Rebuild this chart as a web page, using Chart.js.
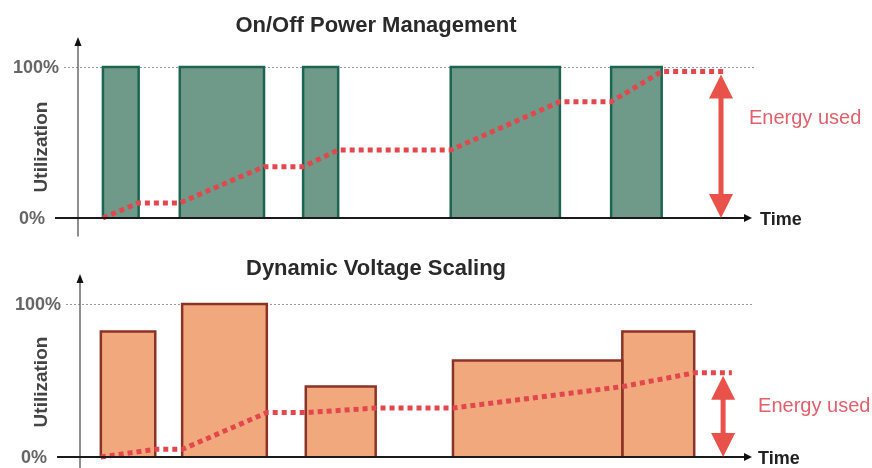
<!DOCTYPE html>
<html><head><meta charset="utf-8">
<script src="https://cdn.jsdelivr.net/npm/chart.js@4"></script>
<style>
html,body{margin:0;padding:0;background:#fff;width:872px;height:468px;overflow:hidden}
.p{position:absolute;left:0;width:872px}
</style></head><body>
<div class="p" style="top:0;height:240px"><canvas id="c1" width="872" height="240"></canvas></div>
<div class="p" style="top:240px;height:228px"><canvas id="c2" width="872" height="228"></canvas></div>
<script>
// ---- data (time in arbitrary units 0..100, utilization / energy in %) ----
const onoffTitle = 'On/Off Power Management';
const onoffStart = [3.7, 15.1, 33.4, 55.3, 79.1];
const onoffEnd   = [9.0, 27.6, 38.6, 71.5, 86.6];
const onoffLevel = [100, 100, 100, 100, 100];
const onoffEnergyT = [3.7, 9.0, 15.1, 27.6, 33.4, 38.6, 55.3, 71.5, 79.1, 86.6, 96.0];
const onoffEnergy  = [0, 10, 10, 34, 34, 45, 45, 77, 77, 97, 97];
const onoffArrowT = 95.4;

const dvsTitle = 'Dynamic Voltage Scaling';
const dvsStart = [3.1, 15.2, 33.6, 55.5, 80.7];
const dvsEnd   = [11.2, 27.8, 44.0, 80.7, 91.4];
const dvsLevel = [82, 100, 46, 63, 82];
const dvsEnergyT = [3.1, 11.2, 15.2, 27.8, 33.6, 44.0, 55.5, 80.7, 91.4, 97.0];
const dvsEnergy  = [0, 5, 5, 29, 29, 32, 32, 46, 55, 55];
const dvsArrowT = 95.7;

const tickValues = [0, 100];
const tickLabels = ['0%', '100%'];
const yAxisTitle = 'Utilization';
const xAxisLabel = 'Time';
const energyLabel = 'Energy used';

const F = "'Liberation Sans', Arial, sans-serif";

function barDatasets(starts, ends, levels, fill, border) {
  return starts.map((s, i) => ({
    label: 'task ' + (i + 1),
    data: [{x: s, y: 0}, {x: s, y: levels[i]}, {x: ends[i], y: levels[i]}, {x: ends[i], y: 0}],
    fill: 'origin', backgroundColor: fill, borderColor: border, borderWidth: 2.5,
    borderJoinStyle: 'miter', pointRadius: 0, tension: 0
  }));
}
function energyDataset(ts, vs) {
  return {
    label: 'energy',
    data: ts.map((t, i) => ({x: t, y: vs[i]})),
    fill: false, borderColor: '#e2474d', borderWidth: 5, borderDash: [5, 4],
    borderCapStyle: 'butt', pointRadius: 0, tension: 0
  };
}

const decor = {
  id: 'decor',
  beforeDatasetsDraw(chart, args, o) {
    const {ctx, chartArea: a, scales: {x, y}} = chart;
    const y100 = y.getPixelForValue(100);
    const xr = x.getPixelForValue(100);
    ctx.save();
    ctx.strokeStyle = '#9a9a9a'; ctx.lineWidth = 1; ctx.setLineDash([2, 2]);
    ctx.beginPath(); ctx.moveTo(a.left - 14, Math.round(y100) + 0.5); ctx.lineTo(xr + 2, Math.round(y100) + 0.5); ctx.stroke();
    ctx.setLineDash([]);
    const tip = y100 - 30;
    ctx.strokeStyle = '#6a6a6a'; ctx.lineWidth = 1.5;
    ctx.beginPath(); ctx.moveTo(a.left, tip + 6); ctx.lineTo(a.left, a.bottom + 2); ctx.stroke();
    ctx.fillStyle = '#111';
    ctx.beginPath(); ctx.moveTo(a.left, tip); ctx.lineTo(a.left - 3.5, tip + 9); ctx.lineTo(a.left + 3.5, tip + 9); ctx.closePath(); ctx.fill();
    ctx.restore();
  },
  afterDatasetsDraw(chart, args, o) {
    const {ctx, chartArea: a, scales: {x, y}} = chart;
    const y0 = y.getPixelForValue(0);
    const xr = x.getPixelForValue(100);
    ctx.save();
    // baseline + arrow
    ctx.strokeStyle = '#1a1a1a'; ctx.lineWidth = 2;
    ctx.beginPath(); ctx.moveTo(a.left - 23, y0); ctx.lineTo(xr - 6, y0); ctx.stroke();
    ctx.fillStyle = '#111';
    ctx.beginPath(); ctx.moveTo(xr, y0); ctx.lineTo(xr - 8, y0 - 4); ctx.lineTo(xr - 8, y0 + 4); ctx.closePath(); ctx.fill();
    ctx.font = 'bold 18px ' + F; ctx.textBaseline = 'middle'; ctx.textAlign = 'left';
    ctx.fillStyle = '#222';
    ctx.fillText(xAxisLabel, xr + o.timeGap, y0 + 2);
    // tick labels
    ctx.font = 'bold 18px ' + F; ctx.textAlign = 'right'; ctx.fillStyle = '#666';
    tickValues.forEach((v, i) => {
      const off = v === 0 ? 33 : 19;
      ctx.fillText(tickLabels[i], a.left - off, y.getPixelForValue(v) + 1);
    });
    // energy double arrow
    const ax = x.getPixelForValue(o.arrowT);
    const at = y.getPixelForValue(o.arrowTop) + 3;
    const ab = y0;
    ctx.fillStyle = '#e8524a'; ctx.strokeStyle = '#e8524a'; ctx.lineWidth = 5;
    ctx.beginPath(); ctx.moveTo(ax, at + 20); ctx.lineTo(ax, ab - 20); ctx.stroke();
    ctx.beginPath(); ctx.moveTo(ax, at); ctx.lineTo(ax - 12, at + 24); ctx.lineTo(ax + 12, at + 24); ctx.closePath(); ctx.fill();
    ctx.beginPath(); ctx.moveTo(ax, ab); ctx.lineTo(ax - 12, ab - 24); ctx.lineTo(ax + 12, ab - 24); ctx.closePath(); ctx.fill();
    ctx.font = '20px ' + F; ctx.textAlign = 'left'; ctx.fillStyle = '#e0606c';
    ctx.fillText(energyLabel, ax + o.labelGap, y.getPixelForValue(o.labelY));
    ctx.restore();
  }
};

function makeChart(id, title, bars, energy, cfg) {
  return new Chart(document.getElementById(id), {
    type: 'line',
    data: {datasets: [energy].concat(bars)},
    options: {
      responsive: false, animation: false, events: [],
      layout: {padding: {top: 0, left: 0, right: 120, bottom: cfg.padBottom}},
      plugins: {
        legend: {display: false}, tooltip: {enabled: false},
        filler: {propagate: false},
        title: {display: true, text: title, color: '#2a2a2a',
          font: {family: F, size: 22, weight: 'bold', lineHeight: 1.2},
          padding: {top: cfg.titleTop, bottom: cfg.titleBottom}},
        decor: cfg.decor
      },
      scales: {
        x: {type: 'linear', min: 0, max: 100, display: false},
        y: {min: cfg.yMin, max: 105,
          ticks: {display: false}, grid: {display: false}, border: {display: false},
          title: {display: true, text: yAxisTitle, color: '#444',
            font: {family: F, size: 19, weight: 'bold', lineHeight: 1.2}, padding: {top: 30, bottom: 0}},
          afterFit(s) { s.width = cfg.axisX; }
        }
      }
    },
    plugins: [decor]
  });
}

makeChart('c1', onoffTitle,
  barDatasets(onoffStart, onoffEnd, onoffLevel, '#6f9a89', '#1d6550'),
  energyDataset(onoffEnergyT, onoffEnergy),
  {padBottom: 5.4, titleTop: 13, titleBottom: 20.05, yMin: -11, axisX: 78,
   decor: {arrowT: onoffArrowT, arrowTop: onoffEnergy[onoffEnergy.length - 1], labelY: 66, labelGap: 28, timeGap: 8}});

makeChart('c2', dvsTitle,
  barDatasets(dvsStart, dvsEnd, dvsLevel, '#f0a87c', '#8a3326'),
  energyDataset(dvsEnergyT, dvsEnergy),
  {padBottom: 0.3, titleTop: 16, titleBottom: 13.95, yMin: -7, axisX: 80,
   decor: {arrowT: dvsArrowT, arrowTop: dvsEnergy[dvsEnergy.length - 1], labelY: 33, labelGap: 35, timeGap: 6}});
</script>
</body></html>
